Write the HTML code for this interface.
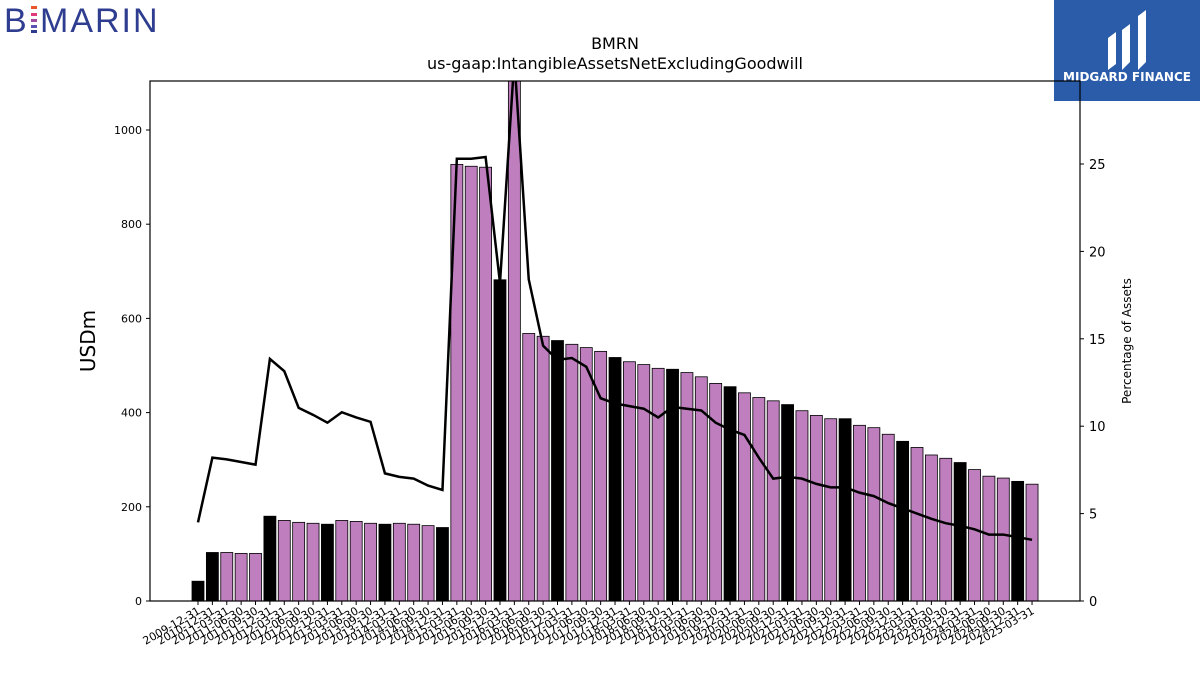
<!DOCTYPE html>
<html><head><meta charset="utf-8"><style>body{margin:0;background:#fff}svg{display:block;font-family:"DejaVu Sans","Liberation Sans",sans-serif}</style></head>
<body>
<svg id="c" width="1200" height="675">
<g>
<text x="4" y="32" font-size="34" fill="#2e3d8f" font-family="Liberation Sans" letter-spacing="2">B</text>
<rect x="31" y="6" width="6" height="3" fill="#e8562a"/><rect x="31" y="13" width="6" height="3" fill="#e03a7a"/><rect x="31" y="19" width="6" height="3" fill="#a04aa0"/><rect x="31" y="25" width="6" height="3" fill="#5a52b0"/><rect x="31" y="30" width="6" height="3" fill="#2e3d8f"/>
<text x="40" y="32" font-size="34" fill="#2e3d8f" font-family="Liberation Sans" letter-spacing="2">MARIN</text>
</g>
<g>
<rect x="1054" y="0" width="146" height="101" fill="#2a5caa"/>
<path d="M1108 70 L1108 38 L1116 32 L1116 64 Z M1122 70 L1122 30 L1130 24 L1130 62 Z M1138 70 L1138 16 L1146 10 L1146 62 Z" fill="#fff"/>
<text x="1127" y="81" font-size="12" font-weight="bold" fill="#fff" text-anchor="middle">MIDGARD FINANCE</text>
</g>
<text x="615" y="49" font-size="16" text-anchor="middle">BMRN</text>
<text x="615" y="69" font-size="16" text-anchor="middle">us-gaap:IntangibleAssetsNetExcludingGoodwill</text>
<g id="plot"></g>
<text transform="translate(95,341) rotate(-90)" font-size="20" text-anchor="middle">USDm</text>
<text transform="translate(1131,341) rotate(-90)" font-size="12" text-anchor="middle">Percentage of Assets</text>
</svg>
<script>
const dates=["2009-12-31","2010-12-31"];
for(let y=2011;y<=2025;y++){for(const q of["03-31","06-30","09-30","12-31"]){if(y===2025&&q!=="03-31")break;dates.push(y+"-"+q);}}
const values=[42,103,103,101,101,180,171,167,165,163,171,169,165,163,165,163,160,156,927,923,921,682,1110,568,562,553,545,538,530,517,508,502,494,492,485,476,462,455,442,432,425,417,404,394,387,387,373,368,354,339,326,310,303,294,279,265,261,254,248];
const pct=[4.5,8.2,8.1,7.95,7.8,13.85,13.15,11.05,10.65,10.2,10.8,10.5,10.25,7.3,7.1,7.0,6.6,6.35,25.3,25.3,25.4,18.2,31,18.4,14.6,13.8,13.9,13.4,11.6,11.3,11.15,11.0,10.5,11.1,11.0,10.9,10.2,9.8,9.5,8.2,7.0,7.1,7.0,6.7,6.5,6.5,6.2,6.0,5.6,5.3,5.0,4.7,4.45,4.3,4.1,3.8,3.8,3.65,3.5];
const leftTicks=[0,200,400,600,800,1000];
const rightTicks=[0,5,10,15,20,25];
const L=150,R=1080,T=81,B=601;
const y1=v=>B-v*0.471, y2=v=>B-v*17.48, x=i=>198+i*14.38;
const ns="http://www.w3.org/2000/svg",g=document.getElementById('plot');
function mk(t,a,p){const e=document.createElementNS(ns,t);for(const k in a)e.setAttribute(k,a[k]);(p||g).appendChild(e);return e;}
const clip=mk('clipPath',{id:'cp'});mk('rect',{x:L,y:T,width:R-L,height:B-T},clip);
const bars=mk('g',{'clip-path':'url(#cp)'});
values.forEach((v,i)=>{const top=y1(v);const b=mk('rect',{x:x(i)-6,y:top,width:12,height:B-top,fill:dates[i].endsWith('12-31')?'#000':'#bf7fbf',stroke:'#000','stroke-width':0.8},bars);


const lb=mk('text',{transform:`translate(${x(i)+3},${B+12}) rotate(-30)`,'font-size':11,'text-anchor':'end'});lb.textContent=dates[i];


mk('line',{x1:x(i),x2:x(i),y1:B,y2:B+4,stroke:'#000'});});
const ln=mk('polyline',{points:pct.map((v,i)=>x(i)+','+y2(v)).join(' '),fill:'none',stroke:'#000','stroke-width':2.5},bars);


mk('rect',{x:L,y:T,width:R-L,height:B-T,fill:'none',stroke:'#000','stroke-width':1.2});
leftTicks.forEach(v=>{mk('line',{x1:L-4,x2:L,y1:y1(v),y2:y1(v),stroke:'#000'});const t=mk('text',{x:L-8,y:y1(v)+4,'font-size':11,'text-anchor':'end'});t.textContent=v;

});
rightTicks.forEach(v=>{mk('line',{x1:R,x2:R+4,y1:y2(v),y2:y2(v),stroke:'#000'});const t=mk('text',{x:R+9,y:y2(v)+5,'font-size':13});t.textContent=v;

});
</script>
</body></html>
